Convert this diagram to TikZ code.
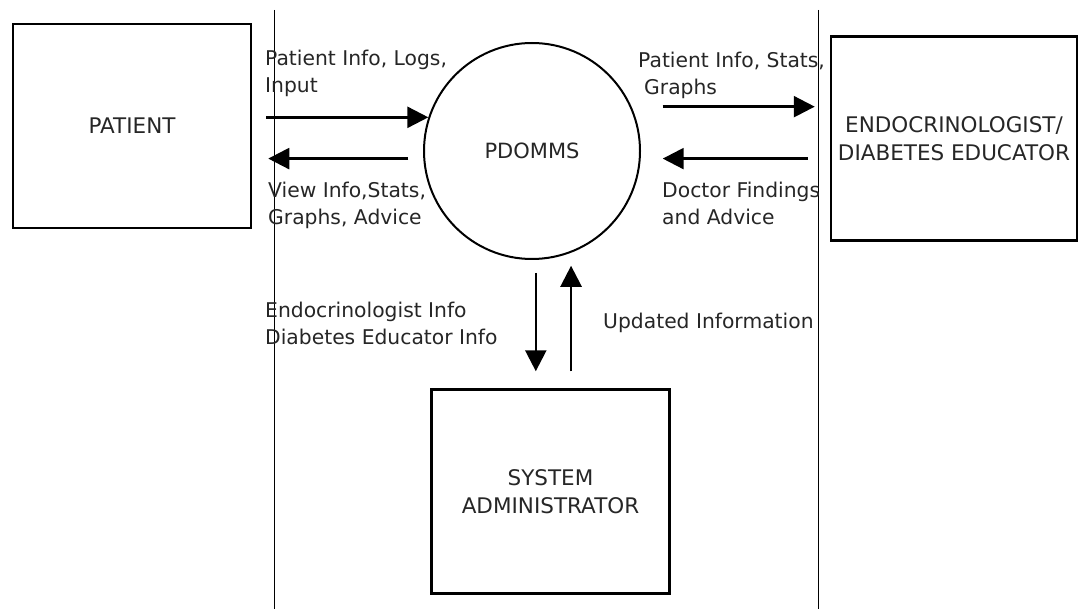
\documentclass[tikz,border=0pt]{standalone}
\usepackage{fontspec}
\setmainfont{DejaVu Sans}
\usetikzlibrary{positioning,arrows.meta}

\begin{document}
\begin{tikzpicture}[x=1pt, y=-1pt, text=black!85,
	entity/.style={draw, line width=2.5pt, minimum width=238pt, minimum height=204pt, align=center, font=\fontsize{21.5}{28.5}\selectfont},
	proc/.style={draw, circle, line width=2pt, minimum size=216pt, font=\fontsize{21}{28}\selectfont},
	flow/.style={line width=2.5pt, -{Triangle[length=21pt, width=21pt]}},
	lbl/.style={anchor=north west, inner sep=0pt, align=left, font=\fontsize{20.3}{27}\selectfont}]
		\useasboundingbox (0,0) rectangle (1091,609);
		% swimlane borders
		\draw[line width=1pt] (274,10) -- (274,609);
		\draw[line width=1pt] (818,10) -- (818,609);
		\node[entity] (patient) at (132,126) {PATIENT};
		\node[proc] (pdomms) at (532,151) {PDOMMS};
		\node[entity, minimum width=246pt] (endo) at (954,138.5) {ENDOCRINOLOGIST/\\DIABETES EDUCATOR};
		\node[entity] (admin) at (550.5,491.5) {SYSTEM\\ADMINISTRATOR};
		\draw[flow, shorten <=14pt] (patient.east |- pdomms.162) -- (pdomms.162);
		\draw[flow, shorten <=15pt, shorten >=16pt] (pdomms.184) -- (patient.east |- pdomms.184);
		\draw[flow, shorten <=31pt, shorten >=15pt] (pdomms.24) -- (endo.west |- pdomms.24);
		\draw[flow, shorten <=22pt, shorten >=22pt] (endo.west |- pdomms.-4) -- (pdomms.-4);
		\draw[flow, shorten <=13pt, shorten >=17pt] (pdomms.-88) -- (pdomms.-88 |- admin.north);
		\draw[flow, shorten <=17pt, shorten >=13pt] (pdomms.-69 |- admin.north) -- (pdomms.-69);
		% flow labels
		\node[lbl] (inlbl) at (265,50) {Patient Info, Logs,\\Input};
		\node[lbl] (viewlbl) at (268,182) {View Info,Stats,\\Graphs, Advice};
		\node[lbl] (statlbl) at (638,52) {Patient Info, Stats,\\\hspace*{6pt}Graphs};
		\node[lbl] (advlbl) at (662,182) {Doctor Findings\\and Advice};
		\node[lbl] (infolbl) at (265,302) {Endocrinologist Info\\Diabetes Educator Info};
		\node[lbl] (updlbl) at (603,313) {Updated Information};
	\end{tikzpicture}
\end{document}
